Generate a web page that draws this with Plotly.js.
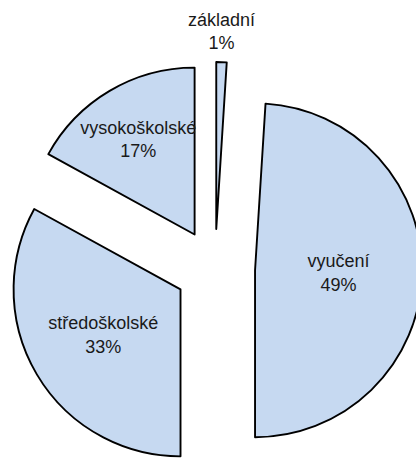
<!DOCTYPE html>
<html>
<head>
<meta charset="utf-8">
<script src="https://cdn.plot.ly/plotly-3.0.1.min.js"></script>
<style>
  html, body { margin: 0; padding: 0; width: 416px; height: 458px; overflow: hidden; background: #fff; }
  #chart { width: 430px; height: 480px; }
</style>
</head>
<body>
<div id="chart"></div>
<script>
const categories = ["základní", "vyučení", "středoškolské", "vysokoškolské"];
const values = [1, 49, 33, 17];
const textPositions = ["none", "inside", "inside", "inside"];

const total = values.reduce((a, b) => a + b, 0);
const outsideLabel = categories[0] + "<br>" + Math.round(values[0] / total * 100) + "%";

const FONT = "Liberation Sans, Arial, sans-serif";

const trace = {
  type: "pie",
  labels: categories,
  values: values,
  sort: false,
  direction: "clockwise",
  rotation: 0,
  pull: 0.24,
  texttemplate: "%{label}<br>%{percent}",
  textposition: textPositions,
  insidetextorientation: "horizontal",
  textfont: { family: FONT, size: 18, color: "#1a1a1a" },
  marker: { colors: ["#C6D9F1", "#C6D9F1", "#C6D9F1", "#C6D9F1"], line: { color: "#000000", width: 1.9 } },
  hoverinfo: "none"
};

const layout = {
  width: 430,
  height: 480,
  margin: { l: 8, r: 8, t: 62, b: 4 },
  showlegend: false,
  paper_bgcolor: "#ffffff",
  uniformtext: { mode: "show", minsize: 18 },
  font: { family: FONT, color: "#1a1a1a" },
  annotations: [{
    text: outsideLabel,
    xref: "paper", yref: "paper",
    x: 0.5145, y: 1.0725,
    xanchor: "center", yanchor: "middle",
    showarrow: false,
    font: { family: FONT, size: 18, color: "#1a1a1a" }
  }]
};

Plotly.newPlot("chart", [trace], layout, { displayModeBar: false, staticPlot: true });
</script>
</body>
</html>
